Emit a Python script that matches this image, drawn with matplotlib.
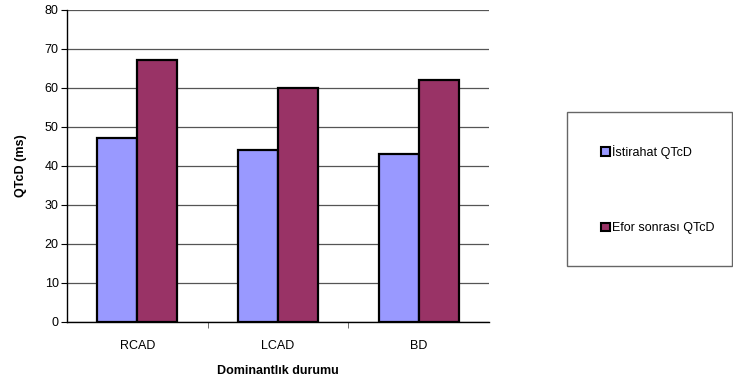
import numpy as np
import matplotlib
matplotlib.use('Agg')
import matplotlib.pyplot as plt
from matplotlib.patches import Rectangle, Patch

categories = ['RCAD', 'LCAD', 'BD']
istirahat = [47, 44, 43]
efor = [67, 60, 62]
series_names = ['İstirahat QTcD', 'Efor sonrası QTcD']

plt.rcParams['font.family'] = ['Liberation Sans', 'DejaVu Sans']

W, H = 733, 383
fig = plt.figure(figsize=(W / 100, H / 100), dpi=100)
ax = fig.add_axes([67 / W, (H - 322) / H, (489 - 67) / W, (322 - 9.5) / H])

x = np.arange(len(categories))
width = 0.285
colours = ['#9999FF', '#993366']
ax.bar(x - width / 2, istirahat, width, color=colours[0], edgecolor='black', linewidth=1.6, zorder=3)
ax.bar(x + width / 2, efor, width, color=colours[1], edgecolor='black', linewidth=1.6, zorder=3)

ax.set_xlim(-0.5, len(categories) - 0.5)
ax.set_ylim(0, 80)
ax.set_yticks(np.arange(0, 81, 10))
ax.yaxis.grid(True, color='#555555', linewidth=0.9, zorder=0)
ax.set_axisbelow(True)

ax.set_xticks(x)
ax.set_xticklabels(categories)
ax.tick_params(axis='x', which='major', length=0, pad=13, labelsize=9)
ax.set_xticks(np.arange(0.5, len(categories) - 0.5, 1), minor=True)
ax.tick_params(axis='x', which='minor', length=4, direction='out', color='#555555')
ax.tick_params(axis='y', length=4, direction='out', labelsize=9, pad=2)

for s in ['top', 'right']:
    ax.spines[s].set_visible(False)
ax.spines['left'].set_linewidth(1.0)
ax.spines['bottom'].set_linewidth(1.0)

ax.set_ylabel('QTcD (ms)', fontsize=9, fontweight='bold')
ax.yaxis.set_label_coords(-0.095, 0.5)
ax.set_xlabel('Dominantlık durumu', fontsize=9, fontweight='bold')
ax.xaxis.set_label_coords(0.5, -0.138)

# legend box
fig.patches.append(Rectangle((567 / W, (H - 266) / H), (W - 567 - 1) / W, (266 - 112) / H,
                             transform=fig.transFigure, fill=False, edgecolor='#666666', linewidth=1.0))
handles = [Patch(facecolor=c, edgecolor='black', linewidth=1.5) for c in colours]
fig.legend(handles, series_names, loc='center left', bbox_to_anchor=(595 / W, (H - 189.5) / H),
           frameon=False, fontsize=9, handlelength=0.7, handleheight=0.7, handletextpad=0.2,
           labelspacing=5.1, borderpad=0)

fig.savefig('out.png', dpi=100)
